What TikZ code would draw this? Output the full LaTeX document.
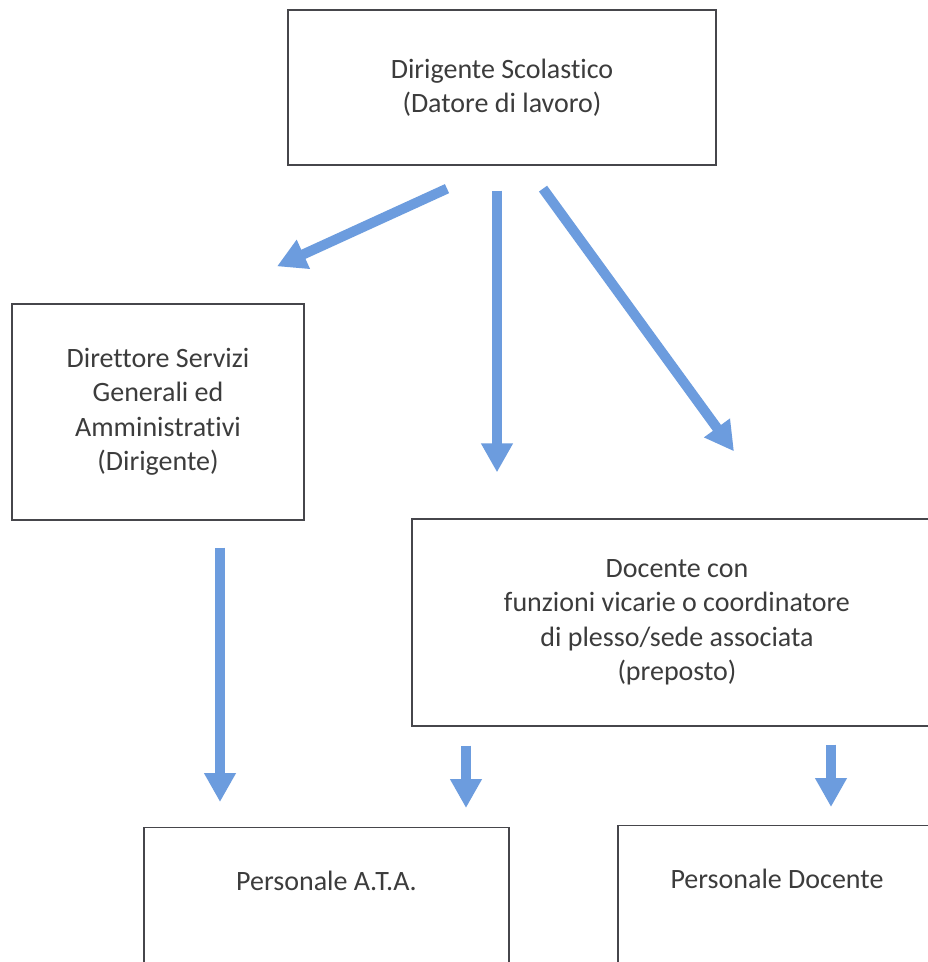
\documentclass[tikz,border=0pt]{standalone}
\usepackage{fontspec}
\setmainfont{Carlito}[Ligatures=NoCommon]
\usepackage{tikz}
\usetikzlibrary{%
arrows.meta,%
calc,%
positioning}
\definecolor{arrowblue}{RGB}{108,156,222}
\definecolor{boxline}{RGB}{70,70,75}
\definecolor{boxtext}{RGB}{60,60,60}

\begin{document}
\begin{tikzpicture}[x=1pt,y=-1pt,
    box/.style={draw=boxline,line width=1.3pt,rectangle,inner sep=0pt,
        align=center,text=boxtext,font=\fontsize{28}{34.5}\selectfont},
    flow/.style={draw=arrowblue,line width=10pt,
        -{Triangle[length=29pt,width=30pt]}}]
\useasboundingbox (0,0) rectangle (928,962);
\clip (0,0) rectangle (928,962);
\fill[white] (0,0) rectangle (928,962);
% boxes
\node[box,minimum width=428pt,minimum height=155pt] (ds) at (502,87.5)
    {Dirigente Scolastico\\(Datore di lavoro)};
\node[box,minimum width=292pt,minimum height=216pt] (dsga) at (158,412)
    {Direttore Servizi\\Generali ed\\Amministrativi\\(Dirigente)};
\node[box,minimum width=530pt,minimum height=207pt] (doc) at (677,622.5)
    {Docente con\\funzioni vicarie o coordinatore\\di plesso/sede associata\\(preposto)};
\node[box,anchor=north,minimum width=365pt,text height=63pt,text depth=95pt] (ata)
    at (326.5,827) {Personale A.T.A.};
\node[box,anchor=north,minimum width=318pt,text height=63pt,text depth=95pt] (pdoc)
    at (777,825) {Personale Docente};
% arrows
\draw[flow] ([xshift=-55pt,yshift=-23pt]ds.south) -- ([xshift=119pt,yshift=37pt]dsga.north);
\draw[flow] ([xshift=-5pt,yshift=-25pt]ds.south) -- ([xshift=-180pt,yshift=46pt]doc.north);
\draw[flow] ([xshift=41pt,yshift=-23pt]ds.south) -- ([xshift=57pt,yshift=67pt]doc.north);
\draw[flow] ([xshift=62pt,yshift=-27pt]dsga.south) -- ([xshift=-106.5pt,yshift=25pt]ata.north);
\draw[flow] ([xshift=-211pt,yshift=-19pt]doc.south) -- ([xshift=139.5pt,yshift=19pt]ata.north);
\draw[flow] ([xshift=154pt,yshift=-18pt]doc.south) -- ([xshift=54pt,yshift=18pt]pdoc.north);
\end{tikzpicture}
\end{document}
